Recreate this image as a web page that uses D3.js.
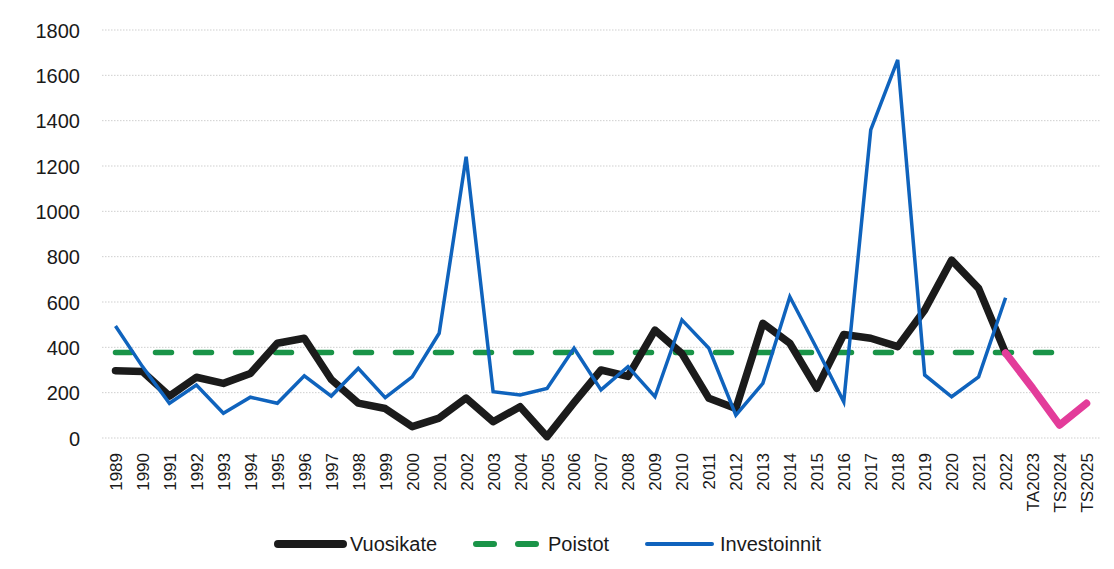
<!DOCTYPE html>
<html>
<head>
<meta charset="utf-8">
<script src="https://cdn.jsdelivr.net/npm/d3@7"></script>
<style>
  html, body { margin: 0; padding: 0; background: #ffffff; }
  svg { display: block; }
  text { font-family: "Liberation Sans", Arial, sans-serif; fill: #1a1a1a; }
</style>
</head>
<body>
<svg id="chart" width="1114" height="569"></svg>
<script>
const categories = ["1989","1990","1991","1992","1993","1994","1995","1996","1997","1998","1999","2000","2001","2002","2003","2004","2005","2006","2007","2008","2009","2010","2011","2012","2013","2014","2015","2016","2017","2018","2019","2020","2021","2022","TA2023","TS2024","TS2025"];

const vuosikate = [297, 293, 185, 268, 241, 285, 418, 440, 258, 154, 130, 50, 88, 176, 72, 138, 6, 156, 300, 272, 476, 372, 175, 130, 506, 418, 219, 457, 440, 403, 565, 785, 660, 375, null, null, null];

const vuosikateEnnuste = [null, null, null, null, null, null, null, null, null, null, null, null, null, null, null, null, null, null, null, null, null, null, null, null, null, null, null, null, null, null, null, null, null, 375, 220, 57, 153];

const poistot = [377, 377, 377, 377, 377, 377, 377, 377, 377, 377, 377, 377, 377, 377, 377, 377, 377, 377, 377, 377, 377, 377, 377, 377, 377, 377, 377, 377, 377, 377, 377, 377, 377, 377, 377, 377, null];

const investoinnit = [494, 315, 153, 234, 109, 180, 153, 274, 185, 307, 178, 270, 462, 1241, 204, 190, 219, 396, 212, 315, 182, 521, 396, 101, 241, 623, 395, 160, 1359, 1668, 278, 182, 270, 619, null, null, null];

const yTicks = [0, 200, 400, 600, 800, 1000, 1200, 1400, 1600, 1800];

const svg = d3.select("#chart");
const plotLeft = 102, plotRight = 1100, plotTop = 30, plotBottom = 438;

const x = d3.scalePoint().domain(categories).range([plotLeft, plotRight]).padding(0.5);
const y = d3.scaleLinear().domain([0, 1800]).range([plotBottom, plotTop]);

// gridlines
svg.append("g").selectAll("line").data(yTicks).join("line")
  .attr("x1", plotLeft).attr("x2", plotRight)
  .attr("y1", d => y(d)).attr("y2", d => y(d))
  .attr("stroke", "#cfcfcf").attr("stroke-width", 1)
  .attr("stroke-dasharray", "1.5,1.5");

// y axis
const yAxis = d3.axisLeft(y).tickValues(yTicks).tickSize(0).tickPadding(0).tickFormat(d3.format("d"));
const gy = svg.append("g").attr("transform", `translate(${plotLeft - 22},0)`).call(yAxis);
gy.select(".domain").remove();
gy.selectAll("text").attr("font-size", 20).attr("dy", "0.35em")
  .style("font-family", "'Liberation Sans', Arial, sans-serif").attr("fill", "#1a1a1a");

// x axis
const xAxis = d3.axisBottom(x).tickSize(0).tickPadding(0);
const gx = svg.append("g").attr("transform", `translate(0,${plotBottom})`).call(xAxis);
gx.select(".domain").remove();
gx.selectAll("text")
  .attr("font-size", 17)
  .style("font-family", "'Liberation Sans', Arial, sans-serif")
  .attr("fill", "#1a1a1a")
  .attr("text-anchor", "end")
  .attr("transform", "translate(0,15) rotate(-90)")
  .attr("x", 0).attr("y", 0).attr("dy", "0.35em");

function mkLine(vals) {
  return d3.line()
    .defined(d => d != null)
    .x((d, i) => x(categories[i]))
    .y(d => y(d))(vals);
}

// Poistot (green dashed)
svg.append("path").attr("d", mkLine(poistot))
  .attr("fill", "none").attr("stroke", "#1a9448").attr("stroke-width", 5.5)
  .attr("stroke-linecap", "round").attr("stroke-dasharray", "16,24");

// Vuosikate (black)
svg.append("path").attr("d", mkLine(vuosikate))
  .attr("fill", "none").attr("stroke", "#1b1b1b").attr("stroke-width", 7.5)
  .attr("stroke-linejoin", "round").attr("stroke-linecap", "round");

// Vuosikate forecast (pink)
svg.append("path").attr("d", mkLine(vuosikateEnnuste))
  .attr("fill", "none").attr("stroke", "#e33c9a").attr("stroke-width", 7.5)
  .attr("stroke-linejoin", "round").attr("stroke-linecap", "round");

// Investoinnit (blue)
svg.append("path").attr("d", mkLine(investoinnit))
  .attr("fill", "none").attr("stroke", "#0f63bd").attr("stroke-width", 3.5)
  .attr("stroke-linejoin", "miter");

// legend
const legend = [
  {name: "Vuosikate", color: "#1b1b1b", width: 8, dash: null, x0: 278, x1: 343, tx: 350},
  {name: "Poistot", color: "#1a9448", width: 6, dash: "18,24", x0: 476, x1: 536, tx: 548},
  {name: "Investoinnit", color: "#0f63bd", width: 4, dash: null, x0: 647, x1: 712, tx: 720}
];
const ly = 544;
const lg = svg.append("g");
legend.forEach(l => {
  const ln = lg.append("line").attr("x1", l.x0).attr("x2", l.x1).attr("y1", ly).attr("y2", ly)
    .attr("stroke", l.color).attr("stroke-width", l.width).attr("stroke-linecap", "round");
  if (l.dash) ln.attr("stroke-dasharray", l.dash);
  lg.append("text").attr("x", l.tx).attr("y", ly).attr("dy", "0.35em")
    .attr("font-size", 20).text(l.name);
});
</script>
</body>
</html>
